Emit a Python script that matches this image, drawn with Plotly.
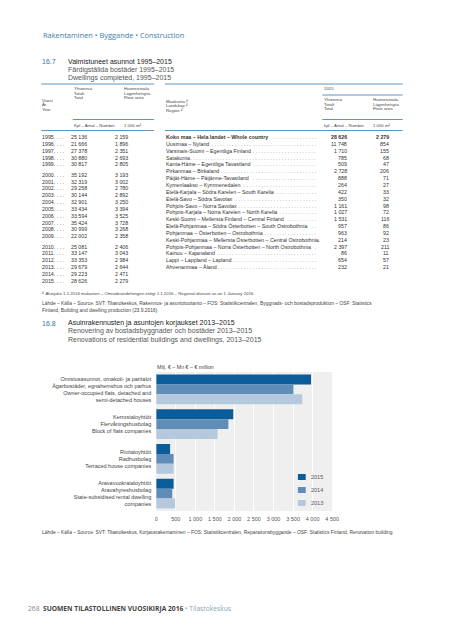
import plotly.graph_objects as go

# ---------------- data: table 16.7 ----------------
tbl_years = ["1995", "1996", "1997", "1998", "1999",
             "2000", "2001", "2002", "2003", "2004", "2005", "2006", "2007", "2008", "2009",
             "2010", "2011", "2012", "2013", "2014", "2015"]
tbl_dwellings = [25136, 21666, 27378, 30880, 30817,
                 35192, 32319, 29258, 30144, 32901, 33434, 33594, 35424, 30999, 22002,
                 25081, 33147, 33353, 29679, 29223, 28626]
tbl_floor_area = [2159, 1896, 2351, 2693, 2805,
                  3193, 3002, 2780, 2892, 3250, 3394, 3525, 3728, 3268, 2358,
                  2406, 3043, 2984, 2644, 2471, 2279]

regions = ["Koko maa – Hela landet – Whole country",
           "Uusimaa – Nyland",
           "Varsinais-Suomi – Egentliga Finland",
           "Satakunta",
           "Kanta-Häme – Egentliga Tavastland",
           "Pirkanmaa – Birkaland",
           "Päijät-Häme – Päijänne-Tavastland",
           "Kymenlaakso – Kymmenedalen",
           "Etelä-Karjala – Södra Karelen – South Karelia",
           "Etelä-Savo – Södra Savolax",
           "Pohjois-Savo – Norra Savolax",
           "Pohjois-Karjala – Norra Karelen – North Karelia",
           "Keski-Suomi – Mellersta Finland – Central Finland",
           "Etelä-Pohjanmaa – Södra Österbotten – South Ostrobothnia",
           "Pohjanmaa – Österbotten – Ostrobothnia",
           "Keski-Pohjanmaa – Mellersta Österbotten – Central Ostrobothnia.",
           "Pohjois-Pohjanmaa – Norra Österbotten – North Ostrobothnia",
           "Kainuu – Kajanaland",
           "Lappi – Lappland – Lapland",
           "Ahvenanmaa – Åland"]
region_dwellings = [28626, 11748, 1710, 785, 509, 2728, 888, 264, 422, 350,
                    1161, 1027, 1531, 957, 963, 214, 2397, 86, 654, 232]
region_floor_area = [2279, 854, 155, 68, 47, 206, 71, 27, 33, 32,
                     98, 72, 116, 86, 92, 23, 211, 11, 57, 21]

# ---------------- data: chart 16.8 ----------------
categories = ["Omistusasunnot, omakoti- ja paritalot<br>Ägarbostäder, egnahemshus och parhus<br>Owner-occupied flats, detached and<br>semi-detached houses",
              "Kerrostaloyhtiöt<br>Flervåningshusbolag<br>Block of flats companies",
              "Rivitaloyhtiöt<br>Radhusbolag<br>Terraced house companies",
              "Aravavuokrataloyhtiöt<br>Aravahyreshusbolag<br>State-subsidised rental dwelling<br>companies"]
series_names = ["2015", "2014", "2013"]
values_2015 = [3960, 1970, 355, 445]
values_2014 = [3510, 1845, 445, 410]
values_2013 = [3735, 1570, 445, 485]
x_tickvals = [0, 500, 1000, 1500, 2000, 2500, 3000, 3500, 4000, 4500]

# ---------------- layout helpers ----------------
OFF = 8
W, H = 434, 624
BODY = "Liberation Sans"
HEAD = "Open Sans"
BLUE = "#2f78a8"
LINE = "#4a8bbb"
C2015, C2014, C2013 = "#0b5d9a", "#5f8db8", "#b6c9dc"


def px(x):
    return (x - OFF) / W


def py(y):
    return 1 - (y - OFF) / H


ann = []
shp = []


def txt(x, y, s, size, color="#333", anchor="left", family=BODY):
    ann.append(dict(x=px(x), y=py(y), xref="paper", yref="paper", text=s, showarrow=False,
                    xanchor=anchor, yanchor="middle", borderpad=0,
                    font=dict(size=size, color=color, family=family)))


def hline(x0, x1, y, color=LINE, w=0.9):
    shp.append(dict(type="line", xref="paper", yref="paper", x0=px(x0), x1=px(x1),
                    y0=py(y), y1=py(y), line=dict(color=color, width=w)))


def fmt(v):
    return f"{v:,}".replace(",", " ")


# approximate Arial / Liberation Sans advance widths (per 1000 em), used for dot leaders
_UP = {"A": 667, "B": 667, "C": 722, "D": 722, "E": 667, "F": 611, "G": 778, "H": 722, "I": 278,
       "K": 667, "L": 556, "M": 833, "N": 722, "O": 778, "P": 667, "R": 722, "S": 667, "T": 611,
       "U": 722, "V": 667, "W": 944, "Å": 667, "Ä": 667, "Ö": 778}
_LO = {"c": 500, "f": 278, "i": 222, "j": 222, "k": 500, "l": 222, "m": 833, "r": 333, "s": 500,
       "t": 278, "v": 500, "w": 722, "x": 500, "y": 500, "z": 500, " ": 278, ".": 278, ",": 278,
       "-": 333, "–": 556}


def text_width(s, size, bold=False):
    w = sum(_UP.get(c, _LO.get(c, 556)) for c in s)
    return w * size / 1000 * (1.1 if bold else 1.03)


# header
txt(40.5, 35, "Rakentaminen • Byggande • Construction", 7.4, "#3b7ea8", family=HEAD)

# ---------------- table 16.7 ----------------
txt(40, 61.5, "16.7", 7, BLUE)
txt(66.5, 61.5, "Valmistuneet asunnot 1995–2015", 7, "#222")
txt(66.5, 69.8, "Färdigställda bostäder 1995–2015", 7, "#555")
txt(66.5, 78, "Dwellings completed, 1995–2015", 7, "#555")

hline(40, 155, 84)
hline(166, 409, 84)
hline(72, 155, 119.5)
hline(40, 155, 130.5)
hline(166, 409, 130.5)
hline(327, 409, 95)
hline(327, 409, 119.5)

HS = 4.3
HC = "#444"
for i, s in enumerate(["Yhteensä", "Totalt", "Total"]):
    txt(72, 88.5 + i * 4.6, s, HS, HC)
for i, s in enumerate(["Huoneistoala", "Lägenhetsyta", "Floor area"]):
    txt(123, 88.5 + i * 4.6, s, HS, HC)
for i, s in enumerate(["Vuosi", "År", "Year"]):
    txt(40, 100 + i * 4.6, s, HS, HC)
for i, s in enumerate(["Maakunta ¹⁾", "Landskap ¹⁾", "Region ¹⁾"]):
    txt(166, 101 + i * 4.6, s, HS, HC)
txt(72, 125.5, "Kpl – Antal – Number", HS, HC)
txt(123, 125.5, "1 000 m²", HS, HC)
txt(328, 89, "2015", HS, HC)
for i, s in enumerate(["Yhteensä", "Totalt", "Total"]):
    txt(328, 99.5 + i * 4.6, s, HS, HC)
for i, s in enumerate(["Huoneistoala", "Lägenhetsyta", "Floor area"]):
    txt(378, 99.5 + i * 4.6, s, HS, HC)
txt(328, 125.5, "kpl – Antal – Number", HS, HC)
txt(378, 125.5, "1 000 m²", HS, HC)

RS = 5.3
RC = "#333"
Y0, STEP, GAP = 137, 6.85, 3.4
for i, yr in enumerate(tbl_years):
    g = 0 if i < 5 else (1 if i < 15 else 2)
    y = Y0 + i * STEP + g * GAP
    txt(40, y, yr + ". . . .", RS, RC)
    txt(87.5, y, fmt(tbl_dwellings[i]), RS, RC, anchor="right")
    txt(130, y, fmt(tbl_floor_area[i]), RS, RC, anchor="right")

DOT_END = 322
for i, name in enumerate(regions):
    y = Y0 + i * STEP
    bold = i == 0
    label = f"<b>{name}</b>" if bold else name
    txt(166, y, label, RS, RC)
    start = 166 + text_width(name, RS, bold) + 3
    n = int((DOT_END - start) / (0.556 * RS))
    if n > 0:
        txt(DOT_END, y, " ." * n, RS, "#666", anchor="right")
    v1 = f"<b>{fmt(region_dwellings[i])}</b>" if bold else fmt(region_dwellings[i])
    v2 = f"<b>{fmt(region_floor_area[i])}</b>" if bold else fmt(region_floor_area[i])
    txt(353, y, v1, RS, RC, anchor="right")
    txt(396, y, v2, RS, RC, anchor="right")

txt(40, 294, "¹⁾ Aluejako 1.1.2016 mukainen – Områdesindelningen enligt 1.1.2016 – Regional division as on 1 January 2016.", 4.3, "#444")
txt(40, 303.5, "Lähde – Källa – Source: SVT: Tilastokeskus, Rakennus- ja asuntotuotanto – FOS: Statistikcentralen, Byggnads- och bostadsproduktion – OSF: Statistics", 4.9, "#444")
txt(40, 310, "Finland, Building and dwelling production (23.9.2016)", 4.9, "#444")

# ---------------- chart 16.8 ----------------
txt(40, 323, "16.8", 7, BLUE)
txt(66.5, 323, "Asuinrakennusten ja asuntojen korjaukset 2013–2015", 7, "#222")
txt(66.5, 331.3, "Renovering av bostadsbyggnader och bostäder 2013–2015", 7, "#555")
txt(66.5, 339.5, "Renovations of residential buildings and dwellings, 2013–2015", 7, "#555")
txt(157, 366.5, "Milj. € – Mn € – € million", 5.3, "#444")

fig = go.Figure()
for name, vals, col in zip(series_names, [values_2015, values_2014, values_2013], [C2015, C2014, C2013]):
    fig.add_trace(go.Bar(y=categories, x=vals, name=name, orientation="h",
                         marker=dict(color=col, line=dict(width=0)), showlegend=False))

# compact legend (swatches + labels)
for i, (name, col) in enumerate(zip(series_names, [C2015, C2014, C2013])):
    yc = 477 + i * 13
    shp.append(dict(type="rect", xref="paper", yref="paper", x0=px(302), x1=px(310),
                    y0=py(yc + 3), y1=py(yc - 3), fillcolor=col, line=dict(width=0)))
    txt(314.5, yc, name, 5.5, "#555")

txt(40, 532, "Lähde – Källa – Source: SVT: Tilastokeskus, Korjausrakentaminen – FOS: Statistikcentralen, Reparationsbyggande – OSF: Statistics Finland, Renovation building", 4.9, "#444")

# footer
txt(25, 608, "268", 6.7, "#888", family=HEAD)
txt(40.5, 608, "<b>SUOMEN TILASTOLLINEN VUOSIKIRJA 2016</b> <span style='color:#8aa3b3'>• Tilastokeskus</span>",
    6.7, "#444", family=HEAD)

fig.update_layout(
    width=W, height=H, autosize=False,
    margin=dict(l=0, r=0, t=0, b=0, pad=0),
    paper_bgcolor="white", plot_bgcolor="#efefef",
    barmode="group", bargap=0.143, bargroupgap=0,
    separators=", ",
    font=dict(family=BODY, color="#444"),
    showlegend=False,
    xaxis=dict(domain=[px(157.3), px(337)], range=[0, 4500], tickvals=x_tickvals,
               separatethousands=True, showgrid=True, gridcolor="white", gridwidth=1,
               zeroline=False, showline=False, ticks="", ticklabelstandoff=3,
               tickfont=dict(size=5.5, color="#555")),
    yaxis=dict(domain=[py(511), py(372)], autorange="reversed", showgrid=False,
               zeroline=False, showline=False, ticks="", ticklabelstandoff=4,
               tickfont=dict(size=5.5, color="#444")),
    annotations=ann, shapes=shp,
)

fig.write_html("out.html")
